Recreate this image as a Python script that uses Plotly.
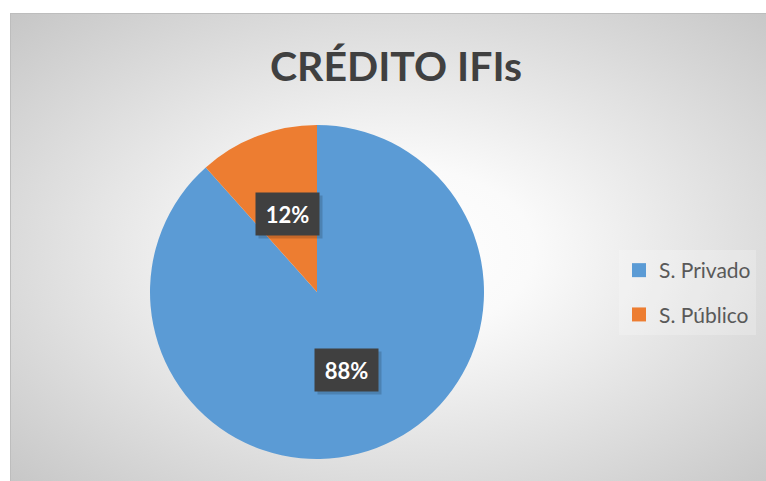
import math
import base64
import plotly.graph_objects as go

# ---- data ----
categories = ["S. Privado", "S. Público"]
values = [88.4, 11.6]
colors = ["#5B9BD5", "#ED7D31"]
title_text = "CRÉDITO IFIs"

# ---- geometry (pixels) ----
W, H = 766, 481
CX, CY, R = 317, 292, 167

# background: radial gradient chart area as SVG
FX, FY, FW, FH = 10, 13, 774, 476
svg = f'''<svg xmlns="http://www.w3.org/2000/svg" width="{FW}" height="{FH}" viewBox="0 0 {FW} {FH}" preserveAspectRatio="none">
<defs><radialGradient id="g" cx="0.5" cy="0.5" r="0.7071" gradientUnits="objectBoundingBox">
<stop offset="0" stop-color="#ffffff"/><stop offset="0.25" stop-color="#fafafa"/><stop offset="1" stop-color="#c6c6c6"/>
</radialGradient></defs>
<rect x="0" y="0" width="{FW}" height="{FH}" fill="url(#g)"/>
<rect x="0.5" y="0.5" width="{FW}" height="{FH}" fill="none" stroke="#bdbdbd" stroke-width="1"/>
</svg>'''
svg_uri = "data:image/svg+xml;base64," + base64.b64encode(svg.encode()).decode()

fig = go.Figure()
fig.add_trace(go.Pie(
    labels=categories, values=values, sort=False, direction="clockwise", rotation=0,
    marker=dict(colors=colors, line=dict(width=0)),
    textinfo="none", hoverinfo="label+percent", showlegend=False,
    domain=dict(x=[(CX - R) / W, (CX + R) / W], y=[1 - (CY + R) / H, 1 - (CY - R) / H]),
))

# legend entries
for c, col in zip(categories, colors):
    fig.add_trace(go.Scatter(
        x=[None], y=[None], mode="markers", name=c, legendgroup=c,
        marker=dict(symbol="square", size=14, color=col), hoverinfo="skip",
    ))

# data labels
annotations = []
total = sum(values)
cum = 0.0
for v in values:
    mid = (cum + v / 2) / total
    cum += v
    th = 2 * math.pi * mid
    px = CX + 0.5 * R * math.sin(th)
    py = CY - 0.5 * R * math.cos(th)
    txt = f"{round(100 * v / total)}%"
    # soft shadow
    annotations.append(dict(
        x=px / W, y=1 - py / H, xref="paper", yref="paper",
        text=" ", showarrow=False, width=63, height=42, borderpad=0,
        xshift=3, yshift=-3, bgcolor="rgba(0,0,0,0.16)",
        font=dict(family="Lato", size=22, color="rgba(0,0,0,0)"),
        xanchor="center", yanchor="middle",
    ))
    annotations.append(dict(
        x=px / W, y=1 - py / H, xref="paper", yref="paper",
        text=txt, showarrow=False, width=63, height=42, borderpad=0,
        bgcolor="#404040",
        font=dict(family="Lato", size=22, color="#ffffff", weight="bold"),
        xanchor="center", yanchor="middle",
    ))

fig.update_layout(
    width=W, height=H, margin=dict(l=0, r=0, t=0, b=0),
    paper_bgcolor="#ffffff", plot_bgcolor="rgba(0,0,0,0)",
    images=[dict(source=svg_uri, xref="paper", yref="paper",
                 x=FX / W, y=1 - FY / H, sizex=FW / W, sizey=FH / H,
                 xanchor="left", yanchor="top", sizing="stretch", layer="below")],
    title=dict(text=title_text, x=396 / W, xanchor="center", y=1 - 67 / H, yanchor="middle",
               font=dict(family="Lato", size=41, color="#404040", weight="bold")),
    xaxis=dict(visible=False), yaxis=dict(visible=False),
    legend=dict(x=619 / W, y=1 - 250 / H, xanchor="left", yanchor="top",
                bgcolor="rgba(255,255,255,0.22)", font=dict(family="Lato", size=21, color="#595959"),
                tracegroupgap=14),
    annotations=annotations,
)

fig.write_html("out.html", config={"displayModeBar": False},
               post_script="document.body.style.margin='0';document.body.style.overflow='hidden';")
